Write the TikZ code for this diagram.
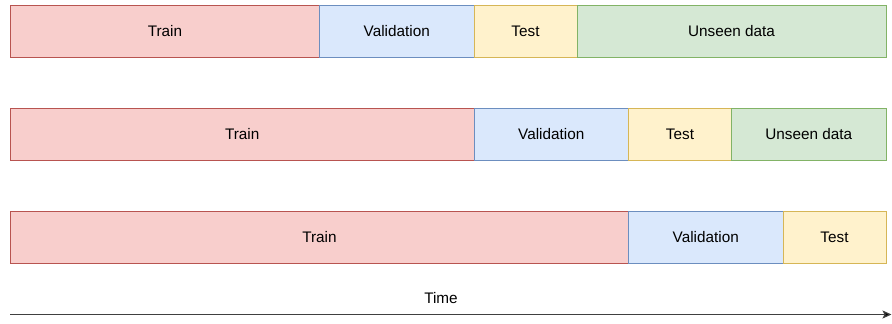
\documentclass[tikz,border=0pt]{standalone}
\usepackage{fontspec}
\setmainfont{Liberation Sans}
\usetikzlibrary{arrows.meta}
\definecolor{trainfill}{HTML}{F8CECC}\definecolor{trainline}{HTML}{B85450}
\definecolor{valfill}{HTML}{DAE8FC}\definecolor{valline}{HTML}{6C8EBF}
\definecolor{testfill}{HTML}{FFF2CC}\definecolor{testline}{HTML}{D6B656}
\definecolor{unfill}{HTML}{D5E8D4}\definecolor{unline}{HTML}{82B366}
\begin{document}
\begin{tikzpicture}[x=1pt,y=-1pt,
  seg/.style={draw, line width=1pt, minimum height=51.5pt, inner sep=0pt, outer sep=0pt,
    anchor=north west, font=\fontsize{15.3}{17}\selectfont},
  train/.style={seg, fill=trainfill, draw=trainline, minimum width=#1},
  val/.style={seg, fill=valfill, draw=valline, minimum width=#1},
  tst/.style={seg, fill=testfill, draw=testline, minimum width=#1},
  unseen/.style={seg, fill=unfill, draw=unline, minimum width=#1}]
\useasboundingbox (0,0) rectangle (892,324);
\def\u{51.5}
% first split
\node[train=6*\u] (tr1) at (10.5,5.5) {Train};
\node[val=3*\u] (va1) at (tr1.north east) {Validation};
\node[tst=2*\u] (te1) at (va1.north east) {Test};
\node[unseen=6*\u] (un1) at (te1.north east) {Unseen data};
% second split
\node[train=9*\u] (tr2) at (10.5,108.5) {Train};
\node[val=3*\u] (va2) at (tr2.north east) {Validation};
\node[tst=2*\u] (te2) at (va2.north east) {Test};
\node[unseen=3*\u] (un2) at (te2.north east) {Unseen data};
% third split
\node[train=12*\u] (tr3) at (10.5,211.5) {Train};
\node[val=3*\u] (va3) at (tr3.north east) {Validation};
\node[tst=2*\u] (te3) at (va3.north east) {Test};
% time axis
\coordinate (t0) at (10,314.5);
\coordinate (t1) at (891.5,314.5);
\draw[line width=1.2pt, draw=black!75, -{Stealth[length=9pt,width=8pt,inset=2pt,fill=black]}] (t0) -- (t1);
\node[font=\fontsize{15.3}{17}\selectfont] (time) at (441,298) {Time};
\end{tikzpicture}
\end{document}
